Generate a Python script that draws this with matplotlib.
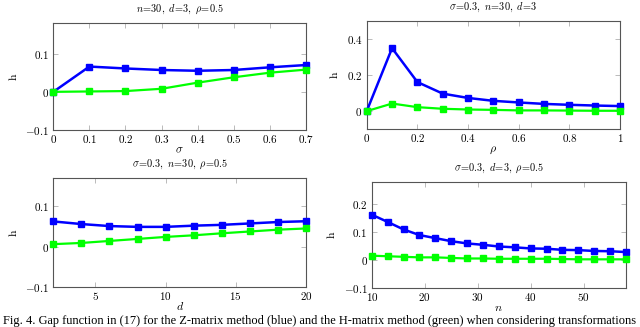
import matplotlib
matplotlib.use("Agg")
import matplotlib.pyplot as plt
from matplotlib.ticker import FuncFormatter, FixedLocator

plt.rcParams['mathtext.fontset'] = 'cm'
plt.rcParams['font.family'] = ['DejaVu Serif']

# Panel 1: varying sigma
sigma = [0, 0.1, 0.2, 0.3, 0.4, 0.5, 0.6, 0.7]
p1_blue = [0.0, 0.066, 0.061, 0.057, 0.055, 0.057, 0.064, 0.070]
p1_green = [0.0, 0.001, 0.002, 0.008, 0.024, 0.038, 0.050, 0.058]

# Panel 2: varying rho
rho = [0, 0.1, 0.2, 0.3, 0.4, 0.5, 0.6, 0.7, 0.8, 0.9, 1.0]
p2_blue = [0.0, 0.349, 0.161, 0.097, 0.073, 0.057, 0.048, 0.040, 0.035, 0.031, 0.028]
p2_green = [0.0, 0.042, 0.022, 0.013, 0.009, 0.007, 0.004, 0.004, 0.003, 0.002, 0.002]

# Panel 3: varying d
d = [2, 4, 6, 8, 10, 12, 14, 16, 18, 20]
p3_blue = [0.0625, 0.056, 0.051, 0.049, 0.049, 0.052, 0.054, 0.0575, 0.061, 0.063]
p3_green = [0.006, 0.009, 0.014, 0.019, 0.024, 0.028, 0.033, 0.0375, 0.042, 0.045]

# Panel 4: varying n
n = [10, 13, 16, 19, 22, 25, 28, 31, 34, 37, 40, 43, 46, 49, 52, 55, 58]
p4_blue = [0.162, 0.136, 0.109, 0.089, 0.078, 0.067, 0.059, 0.054, 0.048, 0.045,
           0.041, 0.040, 0.036, 0.035, 0.032, 0.031, 0.028]
p4_green = [0.015, 0.013, 0.011, 0.009, 0.009, 0.007, 0.005, 0.005, 0.004, 0.004,
            0.004, 0.004, 0.003, 0.002, 0.002, 0.002, 0.002]

titles = [r"$n\!=\!30,\ d\!=\!3,\ \rho\!=\!0.5$",
          r"$\sigma\!=\!0.3,\ n\!=\!30,\ d\!=\!3$",
          r"$\sigma\!=\!0.3,\ n\!=\!30,\ \rho\!=\!0.5$",
          r"$\sigma\!=\!0.3,\ d\!=\!3,\ \rho\!=\!0.5$"]
xlabels = [r"$\sigma$", r"$\rho$", r"$d$", r"$n$"]
xticks = [[0, 0.1, 0.2, 0.3, 0.4, 0.5, 0.6, 0.7],
          [0, 0.2, 0.4, 0.6, 0.8, 1],
          [5, 10, 15, 20],
          [10, 20, 30, 40, 50]]
yticks = [[-0.1, 0, 0.1], [0, 0.2, 0.4], [-0.1, 0, 0.1], [-0.1, 0, 0.1, 0.2]]
xlims = [(0, 0.7), (0, 1), (2, 20), (10, 58)]
ylims = [(-0.1, 0.18), (-0.1, 0.5), (-0.1, 0.17), (-0.1, 0.28)]
rects = [[0.0833, 0.602, 0.3947, 0.328],
         [0.573, 0.605, 0.396, 0.331],
         [0.0833, 0.123, 0.3947, 0.332],
         [0.581, 0.120, 0.397, 0.324]]
xs = [sigma, rho, d, n]
blues = [p1_blue, p2_blue, p3_blue, p4_blue]
greens = [p1_green, p2_green, p3_green, p4_green]

def fmt(v, pos):
    if abs(v) < 1e-12:
        return r"$0$"
    return "$" + ("%g" % v) + "$"

fig = plt.figure(figsize=(6.4, 3.27), dpi=100)
for i in range(4):
    ax = fig.add_axes(rects[i])
    ax.plot(xs[i], blues[i], color=(0, 0, 1), lw=1.8, marker='s', ms=3.8,
            zorder=3, clip_on=False)
    ax.plot(xs[i], greens[i], color=(0, 1, 0), lw=1.6, marker='s', ms=3.8,
            zorder=3, clip_on=False)
    ax.set_xlim(*xlims[i])
    ax.set_ylim(*ylims[i])
    ax.xaxis.set_major_locator(FixedLocator(xticks[i]))
    ax.yaxis.set_major_locator(FixedLocator(yticks[i]))
    ax.xaxis.set_major_formatter(FuncFormatter(fmt))
    ax.yaxis.set_major_formatter(FuncFormatter(fmt))
    ax.tick_params(direction='in', length=3.5, width=0.6, color='#b0b0b0',
                   top=True, right=True, labelsize=8)
    ax.tick_params(axis='x', pad=2)
    ax.tick_params(axis='y', pad=3)
    for sp in ax.spines.values():
        sp.set_color('#555555')
        sp.set_linewidth(0.8)
    ax.set_title(titles[i], fontsize=7.4, pad=8)
    ax.set_xlabel(xlabels[i], fontsize=8.5, labelpad=-1)
    ax.set_ylabel(r"$\mathrm{h}$", fontsize=8.5, labelpad=4)

fig.text(0.5, 0.019,
         "Fig. 4. Gap function in (17) for the Z-matrix method (blue) and the H-matrix method (green) when considering transformations",
         fontsize=8.95, family='Liberation Serif', ha='center', va='center')

fig.savefig("out.png", dpi=100)
